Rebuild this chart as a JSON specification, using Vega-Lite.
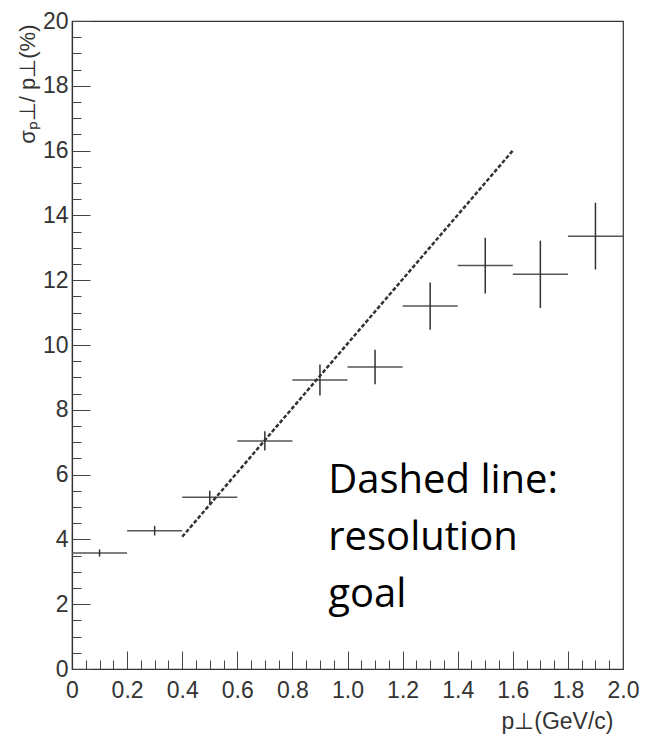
{
  "$schema": "https://vega.github.io/schema/vega-lite/v6.json",
  "width": 551,
  "height": 648,
  "autosize": "none",
  "padding": {"left": 72, "top": 21, "right": 23, "bottom": 70},
  "background": "white",
  "config": {
    "view": {"stroke": "#333", "strokeWidth": 1.2},
    "font": "Liberation Sans"
  },
  "datasets": {
    "points": [
      {"x": 0.1, "y": 3.58, "xlo": 0.0, "xhi": 0.2, "ylo": 3.47, "yhi": 3.69},
      {"x": 0.3, "y": 4.27, "xlo": 0.2, "xhi": 0.4, "ylo": 4.12, "yhi": 4.42},
      {"x": 0.5, "y": 5.30, "xlo": 0.4, "xhi": 0.6, "ylo": 5.10, "yhi": 5.50},
      {"x": 0.7, "y": 7.04, "xlo": 0.6, "xhi": 0.8, "ylo": 6.74, "yhi": 7.34},
      {"x": 0.9, "y": 8.92, "xlo": 0.8, "xhi": 1.0, "ylo": 8.44, "yhi": 9.40},
      {"x": 1.1, "y": 9.32, "xlo": 1.0, "xhi": 1.2, "ylo": 8.79, "yhi": 9.85},
      {"x": 1.3, "y": 11.20, "xlo": 1.2, "xhi": 1.4, "ylo": 10.47, "yhi": 11.93},
      {"x": 1.5, "y": 12.45, "xlo": 1.4, "xhi": 1.6, "ylo": 11.59, "yhi": 13.31},
      {"x": 1.7, "y": 12.18, "xlo": 1.6, "xhi": 1.8, "ylo": 11.14, "yhi": 13.22},
      {"x": 1.9, "y": 13.36, "xlo": 1.8, "xhi": 2.0, "ylo": 12.33, "yhi": 14.39}
    ],
    "goal": [
      {"x": 0.4, "y": 4.08},
      {"x": 1.6, "y": 16.0}
    ]
  },
  "resolve": {"axis": {"x": "independent", "y": "independent"}},
  "layer": [
    {
      "data": {"name": "points"},
      "mark": {"type": "rule", "color": "#555", "strokeWidth": 1.5},
      "encoding": {
        "x": {
          "field": "xlo",
          "type": "quantitative",
          "scale": {"domain": [0, 2], "nice": false, "zero": false},
          "axis": {
            "orient": "bottom",
            "title": "p⊥(GeV/c)",
            "values": [0,0.2,0.4,0.6,0.8,1.0,1.2,1.4,1.6,1.8,2.0],
            "grid": false,
            "domainColor": "#333",
            "domainWidth": 1.2,
            "tickColor": "#444",
            "tickWidth": 1,
            "tickSize": -18,
            "labelExpr": "datum.value == 0 ? '0' : format(datum.value, '.1f')",
            "labelFontSize": 23,
            "labelColor": "#333",
            "labelPadding": 28,
            "labelFlush": false,
            "labelOverlap": false,
            "titleFontSize": 23,
            "titleFontWeight": "normal",
            "titleColor": "#333",
            "titleX": 541,
            "titleY": 59,
            "titleAlign": "right",
            "titleBaseline": "alphabetic"
          }
        },
        "x2": {"field": "xhi"},
        "y": {
          "field": "y",
          "type": "quantitative",
          "scale": {"domain": [0, 20], "nice": false},
          "axis": {
            "orient": "left",
            "title": "σₚ⊥/ p⊥(%)",
            "values": [0,2,4,6,8,10,12,14,16,18,20],
            "grid": false,
            "domainColor": "#333",
            "domainWidth": 1.2,
            "tickColor": "#444",
            "tickWidth": 1,
            "tickSize": -18,
            "labelExpr": "format(datum.value, 'd')",
            "labelFontSize": 23,
            "labelColor": "#333",
            "labelPadding": 22,
            "labelFlush": false,
            "labelOverlap": false,
            "titleFontSize": 22,
            "titleFontWeight": "normal",
            "titleColor": "#333",
            "titleAngle": -90,
            "titleX": -45,
            "titleY": 3,
            "titleAlign": "right",
            "titleBaseline": "middle"
          }
        }
      }
    },
    {
      "data": {"name": "points"},
      "mark": {"type": "rule", "color": "#333", "strokeWidth": 1.5},
      "encoding": {
        "x": {
          "field": "x",
          "type": "quantitative",
          "axis": {
            "orient": "bottom",
            "title": null,
            "values": [0.05,0.1,0.15,0.25,0.3,0.35,0.45,0.5,0.55,0.65,0.7,0.75,0.85,0.9,0.95,1.05,1.1,1.15,1.25,1.3,1.35,1.45,1.5,1.55,1.65,1.7,1.75,1.85,1.9,1.95],
            "grid": false,
            "domain": false,
            "labels": false,
            "tickColor": "#444",
            "tickWidth": 1,
            "tickSize": -9
          }
        },
        "y": {
          "field": "ylo",
          "type": "quantitative",
          "axis": {
            "orient": "left",
            "title": null,
            "values": [0.5,1,1.5,2.5,3,3.5,4.5,5,5.5,6.5,7,7.5,8.5,9,9.5,10.5,11,11.5,12.5,13,13.5,14.5,15,15.5,16.5,17,17.5,18.5,19,19.5],
            "grid": false,
            "domain": false,
            "labels": false,
            "tickColor": "#444",
            "tickWidth": 1,
            "tickSize": -9
          }
        },
        "y2": {"field": "yhi"}
      }
    },
    {
      "data": {"name": "goal"},
      "mark": {"type": "line", "color": "#333", "strokeWidth": 2.5, "strokeDash": [4, 2]},
      "encoding": {
        "x": {"field": "x", "type": "quantitative", "axis": null},
        "y": {"field": "y", "type": "quantitative", "axis": null}
      }
    },
    {
      "data": {"values": [{"note": "Dashed line: resolution goal"}]},
      "mark": {
        "type": "text",
        "text": ["Dashed line:", "resolution", "goal"],
        "font": "Open Sans",
        "fontSize": 40,
        "lineHeight": 57,
        "align": "left",
        "baseline": "alphabetic",
        "color": "#000"
      },
      "encoding": {
        "x": {"datum": 0.93, "type": "quantitative", "axis": null},
        "y": {"datum": 5.44, "type": "quantitative", "axis": null}
      }
    }
  ]
}
